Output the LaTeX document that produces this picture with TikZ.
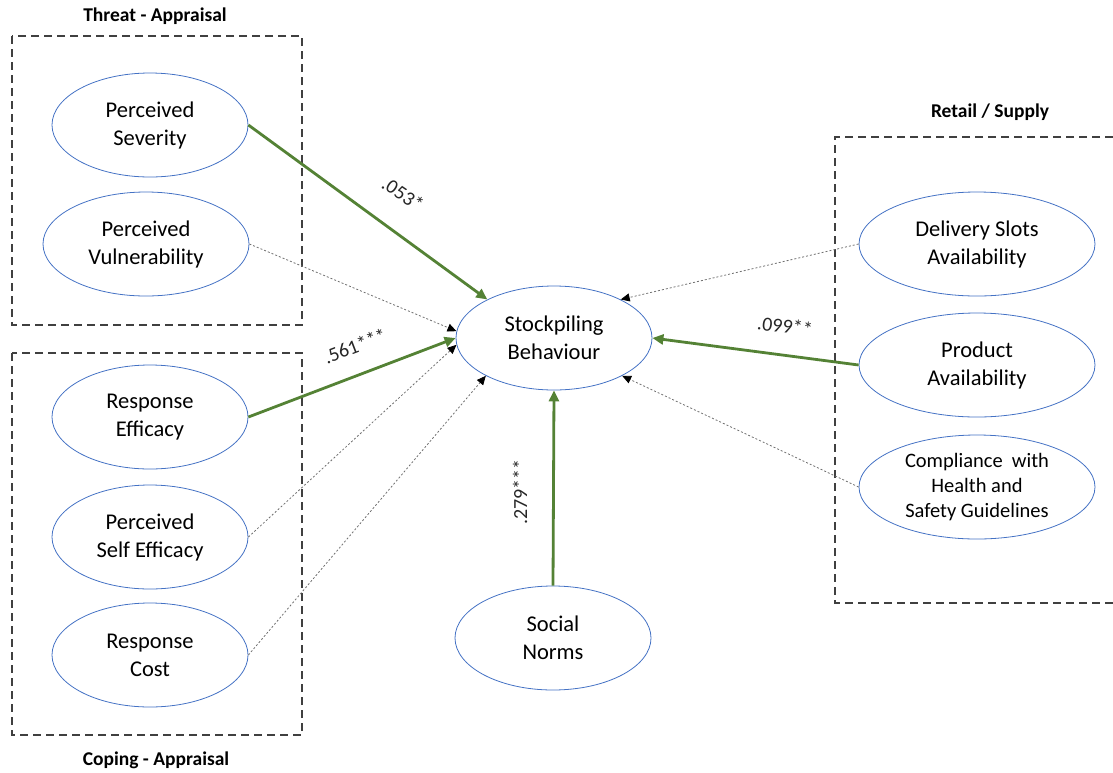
\documentclass[tikz,border=0pt]{standalone}
\usepackage{fontspec}
\setmainfont{Carlito}
\usetikzlibrary{shapes.geometric,arrows.meta}
\definecolor{egreen}{HTML}{548235}
\definecolor{eblue}{HTML}{4472C4}
\definecolor{boxgray}{HTML}{404040}
\definecolor{dotgray}{HTML}{707070}
\begin{document}
\begin{tikzpicture}[x=1pt,y=-1pt,
  ell/.style={ellipse,draw=eblue,line width=0.8pt,minimum width=196pt,minimum height=104pt,inner sep=0pt,align=center,font=\fontsize{22.5}{28}\selectfont},
  wide/.style={ell,minimum width=236pt},
  grpbox/.style={draw=boxgray,line width=1.1pt,dash pattern=on 8pt off 5pt},
  grptitle/.style={font=\bfseries\fontsize{19.5}{22}\selectfont},
  sig/.style={draw=egreen,line width=2.8pt,-{Triangle[length=11pt,width=10pt,fill=egreen]}},
  ns/.style={draw=dotgray,line width=0.8pt,dash pattern=on 2pt off 2pt,-{Triangle[length=9pt,width=8pt,fill=black,color=black]}},
  coef/.style={font=\fontsize{20}{22}\selectfont,text=black!85,inner sep=1pt}
]
\useasboundingbox (0,0) rectangle (1113,772);

% group boxes
\draw[grpbox] (12,36) rectangle (302,325);
\draw[grpbox] (12,353) rectangle (302,735);
\draw[grpbox] (1113,137) -- (835,137) -- (835,603) -- (1113,603);
\node[grptitle] (t1) at (155,16) {Threat - Appraisal};
\node[grptitle] (t2) at (156,760) {Coping - Appraisal};
\node[grptitle] (t3) at (990,112) {Retail / Supply};

% ellipses
\node[ell] (sev) at (150,125) {Perceived\\Severity};
\node[ell,minimum width=206pt] (vul) at (146,244) {Perceived\\Vulnerability};
\node[ell] (re) at (150,417) {Response\\Efficacy};
\node[ell] (se) at (150,537) {Perceived\\Self Efficacy};
\node[ell] (rc) at (150,655) {Response\\Cost};
\node[ell] (sb) at (554,338) {Stockpiling\\Behaviour};
\node[ell] (sn) at (553,638) {Social\\Norms};
\node[wide] (ds) at (977,244) {Delivery Slots\\Availability};
\node[wide] (pa) at (977,365) {Product\\Availability};
\node[wide,font=\fontsize{20.5}{25}\selectfont] (co) at (977,487) {Compliance~~with\\Health and\\Safety Guidelines};

% connectors
\draw[sig] (sev.east) -- (sb.150);
\draw[ns] (vul.east) -- (sb.176);
\draw[sig] (re.east) -- (sb.west);
\draw[ns] (se.east) -- (sb.184);
\draw[ns] (rc.east) -- (sb.209);
\draw[ns] (ds.west) -- (sb.30);
\draw[sig] (pa.west) -- (sb.east);
\draw[ns] (co.west) -- (sb.331);
\draw[sig] (sn.north) -- (sb.south);

% coefficients
\node[coef,rotate=-34] (c1) at (403,194) {.053*};
\node[coef,rotate=21] (c2) at (355,346) {.561***};
\node[coef,rotate=-7] (c3) at (785,326) {.099**};
\node[coef,rotate=90] (c4) at (520,492) {.279***};
\end{tikzpicture}
\end{document}
